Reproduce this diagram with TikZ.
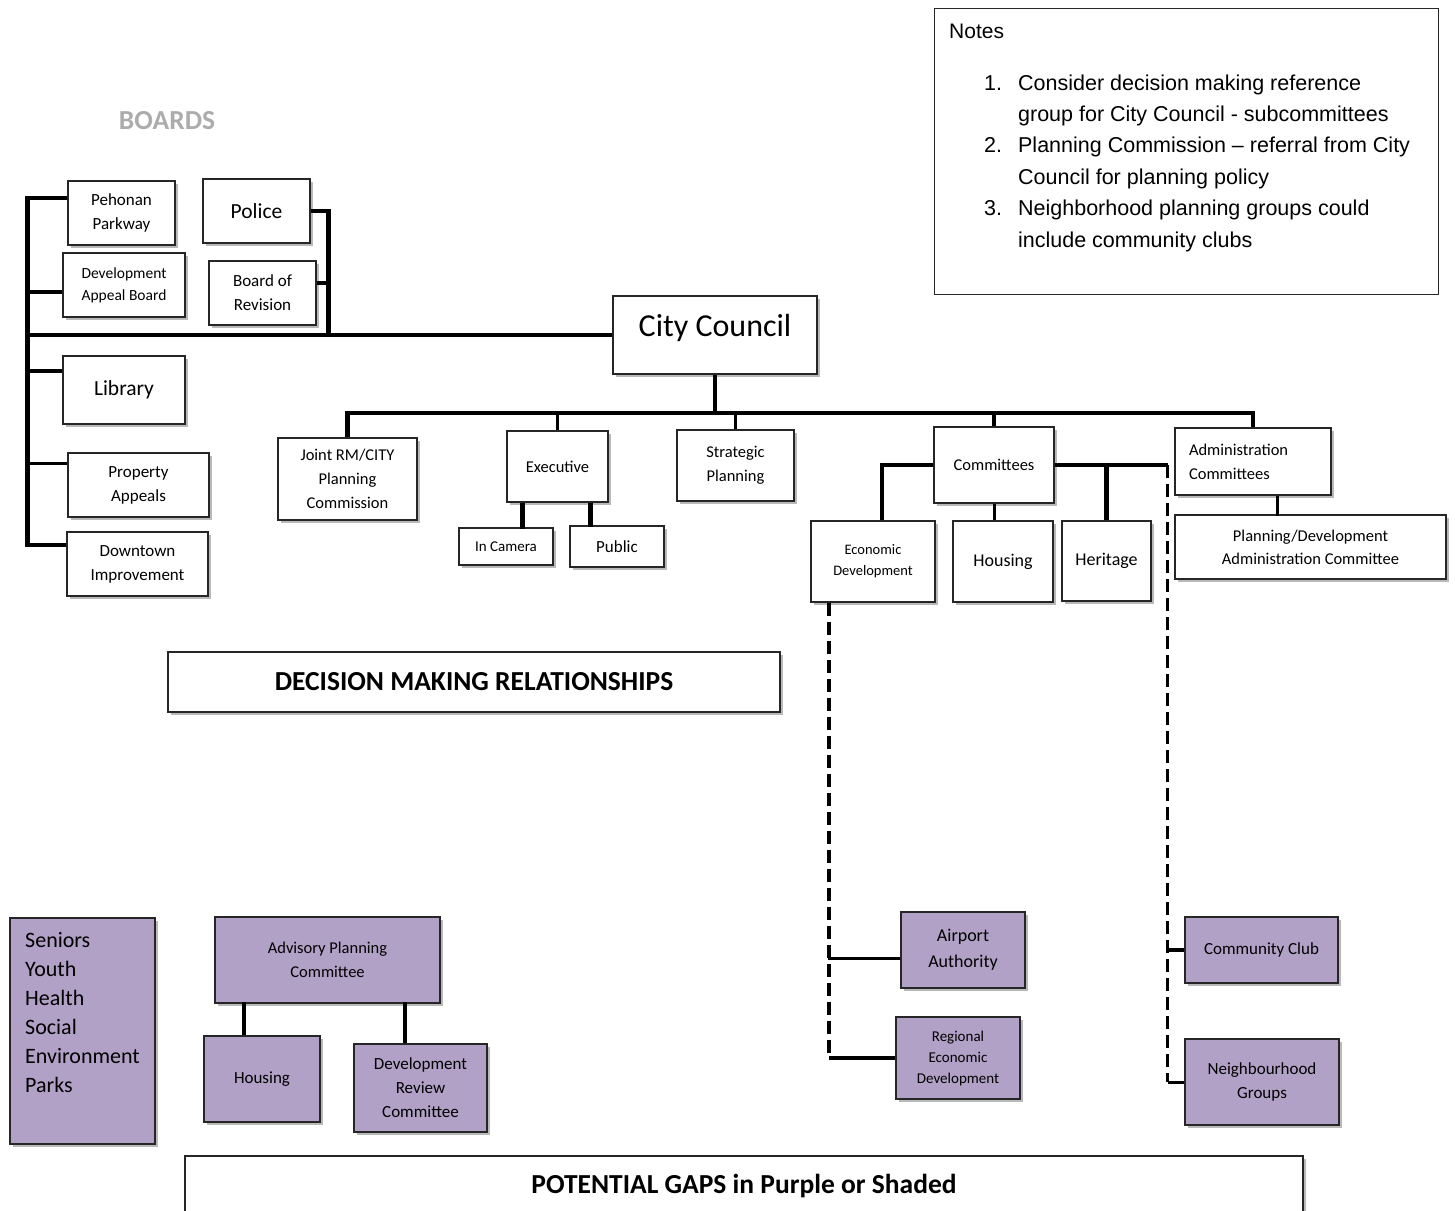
\documentclass[tikz,border=0pt]{standalone}
\usepackage{fontspec}
\setmainfont{Carlito}
\newfontfamily\notesfont{Liberation Sans}
\usetikzlibrary{shadows,calc}

\definecolor{gapviolet}{RGB}{178,161,199}
\newcommand{\fsz}[2]{\fontsize{#1}{#2}\selectfont}

\tikzset{
  box/.style={draw=black!85, line width=1.3pt, fill=white, align=center, inner sep=0pt,
    drop shadow={shadow xshift=3pt, shadow yshift=-3pt, fill=black!50, opacity=.55}},
  gapbox/.style={box, fill=gapviolet},
  bus/.style={line width=4.8pt},
  thinbus/.style={line width=3pt},
  dashbus/.style={line width=3.2pt, dash pattern=on 13pt off 6pt},
}

\begin{document}
\begin{tikzpicture}[x=1pt, y=-1pt, font=\fsz{17}{24}]
        \fill[white] (0,0) rectangle (1455,1210);
        \useasboundingbox (0,0) rectangle (1455,1210);

        % Notes
        \node[draw=black!85, line width=1.3pt, minimum width=504pt, minimum height=286pt, anchor=north west] (notes) at (934,8) {};
        \node[anchor=base west, inner sep=0pt, font=\notesfont\fsz{21}{31}] (notestitle) at (949,38) {Notes};
        \node[anchor=north west, inner sep=0pt, font=\notesfont\fsz{21.5}{31.4}] (noteslist) at (984,68) {%
          \begin{tabular}{@{}r@{\hspace{16pt}}l@{}}
          1. & Consider decision making reference\\
             & group for City Council - subcommittees\\
          2. & Planning Commission – referral from City\\
             & Council for planning policy\\
          3. & Neighborhood planning groups could\\
             & include community clubs
          \end{tabular}};

        % Boards
        \node[font=\bfseries\fsz{27.5}{30}, text=gray!65] (boards) at (167,121) {BOARDS};
        \node[box, minimum width=107pt, minimum height=64pt] (pehonan) at (121.5,213) {Pehonan\\Parkway};
        \node[box, minimum width=107pt, minimum height=64pt, font=\fsz{21.5}{24}] (police) at (256.5,211) {Police};
        \node[box, minimum width=122pt, minimum height=64pt, font=\fsz{15.5}{22}] (devappeal) at (124,285) {Development\\Appeal Board};
        \node[box, minimum width=107pt, minimum height=64pt] (boardrev) at (262.5,293) {Board of\\Revision};
        \node[box, minimum width=122pt, minimum height=68pt, font=\fsz{21.5}{24}] (library) at (124,390) {Library};
        \node[box, minimum width=141pt, minimum height=64pt] (propapp) at (138.5,485) {Property\\Appeals};
        \node[box, minimum width=141pt, minimum height=64pt] (downtown) at (137.5,564) {Downtown\\Improvement};

        % Council and its committees
        \node[box, minimum width=204pt, minimum height=78pt, font=\fsz{32}{36}] (council) at (715,335) {\raisebox{20pt}{City Council}};
        \node[box, minimum width=139pt, minimum height=82pt, font=\fsz{16.5}{24}] (joint) at (347.5,479) {Joint RM/CITY\\Planning\\Commission};
        \node[box, minimum width=101pt, minimum height=71pt, font=\fsz{16.5}{24}] (exec) at (557.5,466.5) {Executive};
        \node[box, minimum width=94pt, minimum height=37pt, font=\fsz{15}{20}] (incamera) at (506,546.5) {In Camera};
        \node[box, minimum width=94pt, minimum height=41pt] (public) at (617,546.5) {Public};
        \node[box, minimum width=117pt, minimum height=71pt, font=\fsz{16.5}{24}] (strategic) at (735.5,465.5) {Strategic\\Planning};
        \node[box, minimum width=120pt, minimum height=76pt, font=\fsz{16.5}{24}] (committees) at (994,465) {Committees};
        \node[box, minimum width=124pt, minimum height=81pt, font=\fsz{14.5}{21}] (econ) at (873,561.5) {Economic\\Development};
        \node[box, minimum width=100pt, minimum height=81pt, font=\fsz{18}{24}] (housingc) at (1003,561.5) {Housing};
        \node[box, minimum width=89pt, minimum height=80pt, font=\fsz{18}{24}] (heritage) at (1106.5,561) {Heritage};
        \node[box, minimum width=156pt, minimum height=67pt, text width=128pt, align=left, font=\fsz{16.5}{24}] (admin) at (1253,461.5) {Administration\\Committees};
        \node[box, minimum width=271pt, minimum height=64pt, font=\fsz{16.5}{23}] (plandev) at (1310.5,547) {Planning/Development\\Administration Committee};

        % Titles
        \node[box, minimum width=612pt, minimum height=60pt, font=\bfseries\fsz{27.5}{30}] (decision) at (474,682) {DECISION MAKING RELATIONSHIPS};
        \node[box, minimum width=1118pt, minimum height=60pt, font=\bfseries\fsz{27.5}{30}] (gaps) at (744,1186) {POTENTIAL GAPS in Purple or Shaded};

        % Gaps (purple)
        \node[gapbox, minimum width=145pt, minimum height=226pt] (seniors) at (82.5,1031) {};
        \node[anchor=north west, inner sep=0pt, align=left, font=\fsz{22}{29}] (seniorstext) at (25,932) {Seniors\\Youth\\Health\\Social\\Environment\\Parks};
        \node[gapbox, minimum width=225pt, minimum height=86pt, font=\fsz{16.5}{24}] (advplan) at (327.5,960) {Advisory Planning\\Committee};
        \node[gapbox, minimum width=116pt, minimum height=86pt] (housingp) at (262,1079) {Housing};
        \node[gapbox, minimum width=133pt, minimum height=88pt] (devrev) at (420.5,1088) {Development\\Review\\Committee};
        \node[gapbox, minimum width=124pt, minimum height=76pt, font=\fsz{18}{26}] (airport) at (963,950) {Airport\\Authority};
        \node[gapbox, minimum width=124pt, minimum height=82pt, font=\fsz{15}{21}] (regional) at (958,1058) {Regional\\Economic\\Development};
        \node[gapbox, minimum width=153pt, minimum height=66pt] (community) at (1261.5,950) {Community Club};
        \node[gapbox, minimum width=154pt, minimum height=86pt] (neighbourhood) at (1262,1082) {Neighbourhood\\Groups};

        % Boards bus (left)
        \draw[bus] ([yshift=15pt]pehonan.west) -- ++(-40,0) coordinate (ltop) |- ([yshift=19pt]downtown.west);
        \draw[bus] ([yshift=-7pt]devappeal.west) -- ++(-35,0);
        \draw[bus] (council.west) -- (council.west -| ltop);
        \draw[bus] ([yshift=19pt]library.west) -- ++(-35,0);
        \draw[thinbus] ([yshift=22pt]propapp.west) -- ++(-40,0);
        % Boards bus (right)
        \draw[bus] (police.east) -- ++(18,0) coordinate (rtop) -- (rtop |- council.west);
        \draw[bus] ([yshift=10pt]boardrev.east) -- ++(12,0);

        % Council bus
        \coordinate (bus2) at (715,413);
        \draw[bus] (council.south) -- (bus2);
        \draw[bus] (joint.north) |- (admin.north |- bus2) -- (admin.north);
        \draw[thinbus] (exec.north) -- (exec.north |- bus2);
        \draw[thinbus] (strategic.north) -- (strategic.north |- bus2);
        \draw[bus] (committees.north) -- (committees.north |- bus2);

        % Executive
        \draw[bus] ([xshift=-35pt]exec.south) -- ++(0,26);
        \draw[bus] ([xshift=33pt]exec.south) -- ++(0,24);

        % Committees
        \draw[bus] (committees.west) -| ([xshift=9pt]econ.north);
        \draw[thinbus] (committees.south) -- (committees.south |- housingc.north);
        \draw[bus] (committees.east) -- ++(113,0) coordinate (rdash);
        \draw[bus] (heritage.north) -- (heritage.north |- rdash);
        \draw[thinbus] ([xshift=24pt]admin.south) -- ++(0,20);

        % Dashed links to gaps
        \draw[dashbus] (rdash) -- (rdash |- neighbourhood.west);
        \draw[bus] (community.west) -- (community.west -| rdash);
        \draw[thinbus] (neighbourhood.west) -- (neighbourhood.west -| rdash);
        \draw[dashbus] ([xshift=-44pt]econ.south) coordinate (ldash) -- (ldash |- regional.west);
        \draw[thinbus] ([yshift=-8pt]airport.west) -- ++(-72,0);
        \draw[bus] (regional.west) -- (regional.west -| ldash);

        % Advisory planning
        \draw[bus] ([xshift=-18pt]housingp.north) -- ++(0,-33);
        \draw[bus] ([xshift=-15.5pt]devrev.north) -- ++(0,-41);

    \end{tikzpicture}
\end{document}
